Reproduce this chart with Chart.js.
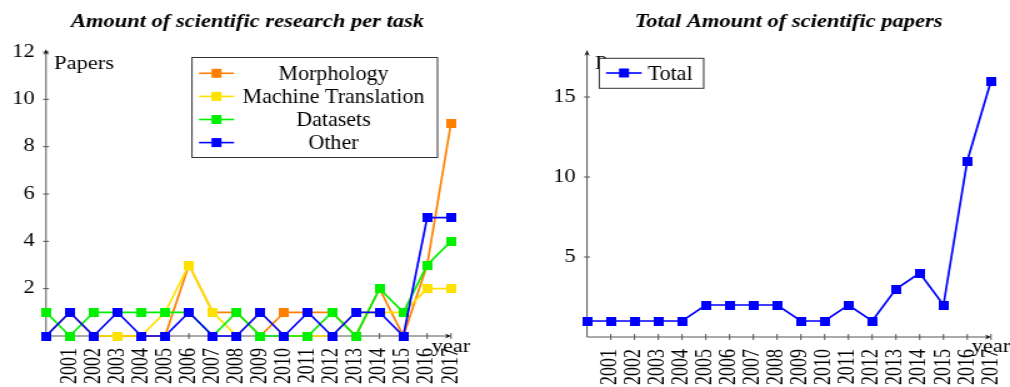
<!DOCTYPE html>
<html><head><meta charset="utf-8">
<script src="https://cdn.jsdelivr.net/npm/chart.js@4.4.1/dist/chart.umd.min.js"></script>
<style>
html,body{margin:0;padding:0;background:#fff;overflow:hidden}
body{width:1010px;height:387px;position:relative}
.wrap{position:absolute;top:0;width:404px;height:387px;transform:scaleX(1.25);transform-origin:0 0}
#w1{left:0}
#w2{left:505px}
canvas{display:block}
</style></head><body>
<div class="wrap" id="w1"><canvas id="c1" width="404" height="387"></canvas></div>
<div class="wrap" id="w2"><canvas id="c2" width="404" height="387"></canvas></div>
<script>
// ---- data ----
const years = [2000,2001,2002,2003,2004,2005,2006,2007,2008,2009,2010,2011,2012,2013,2014,2015,2016,2017];
const tickYears = [2001,2002,2003,2004,2005,2006,2007,2008,2009,2010,2011,2012,2013,2014,2015,2016,2017];
const morphology         = [0,1,0,0,0,0,3,1,1,0,1,1,1,0,2,0,3,9];
const machineTranslation = [0,1,0,0,0,1,3,1,0,1,0,0,0,1,1,1,2,2];
const datasetsSeries     = [1,0,1,1,1,1,1,0,1,0,0,0,1,0,2,1,3,4];
const other              = [0,1,0,1,0,0,1,0,0,1,0,1,0,1,1,0,5,5];
const total              = [1,1,1,1,1,2,2,2,2,1,1,2,1,3,4,2,11,16];
const leftYTicks = [2,4,6,8,10,12];
const rightYTicks = [5,10,15];
const leftTitle = 'Amount of scientific research per task';
const rightTitle = 'Total Amount of scientific papers';

// ---- styling ----
const S = 1.25; // horizontal stretch of the canvases
const FONT = '"Liberation Serif", "Times New Roman", serif';
const COLORS = {orange:'#ff8000', yellow:'#ffe100', green:'#00f000', blue:'#0000ff'};

function markerImg(color){
  const c = document.createElement('canvas');
  c.width = 8; c.height = 9;
  const g = c.getContext('2d');
  g.fillStyle = color; g.fillRect(0,0,8,9);
  return c;
}
function lineDs(label, values, color, order){
  return {
    label, order,
    data: years.map((x,i)=>({x:x, y:values[i]})),
    borderColor: color, backgroundColor: color, borderWidth: 1.7,
    pointStyle: markerImg(color), pointRadius: 5, pointHoverRadius: 5,
    tension: 0, clip: false
  };
}

function axesPlugin(arrowExtra){
  return {
    id: 'axesDeco',
    beforeDatasetsDraw(chart){
      const ctx = chart.ctx, a = chart.chartArea, x = chart.scales.x, y = chart.scales.y;
      ctx.save();
      ctx.strokeStyle = '#555'; ctx.lineWidth = 1;
      ctx.beginPath();
      ctx.moveTo(a.left, a.bottom); ctx.lineTo(a.right - 2/S, a.bottom);
      ctx.moveTo(a.left, a.bottom); ctx.lineTo(a.left, a.top - arrowExtra + 2);
      ctx.stroke();
      ctx.beginPath();
      x.ticks.forEach(t=>{ const px = x.getPixelForValue(t.value); ctx.moveTo(px, a.bottom-3); ctx.lineTo(px, a.bottom+3); });
      y.ticks.forEach(t=>{ const py = y.getPixelForValue(t.value); ctx.moveTo(a.left-3/S, py); ctx.lineTo(a.left+3/S, py); });
      ctx.stroke();
      ctx.fillStyle = '#111';
      ctx.beginPath();
      ctx.moveTo(a.right, a.bottom);
      ctx.lineTo(a.right-6/S, a.bottom-2.6);
      ctx.lineTo(a.right-4/S, a.bottom);
      ctx.lineTo(a.right-6/S, a.bottom+2.6);
      ctx.closePath(); ctx.fill();
      const ty = a.top - arrowExtra;
      ctx.beginPath();
      ctx.moveTo(a.left, ty);
      ctx.lineTo(a.left-2.6/S, ty+6);
      ctx.lineTo(a.left, ty+4);
      ctx.lineTo(a.left+2.6/S, ty+6);
      ctx.closePath(); ctx.fill();
      ctx.restore();
    }
  };
}

function text(ctx, str, x, y, font, align, unstretch){
  ctx.save();
  ctx.translate(x, y);
  if (unstretch) ctx.scale(1/S, 1);
  ctx.font = font; ctx.fillStyle = '#000';
  ctx.textAlign = align; ctx.textBaseline = 'alphabetic';
  ctx.fillText(str, 0, 0);
  ctx.restore();
}

function decoPlugin(cfg){
  return {
    id: 'deco',
    afterDatasetsDraw(chart){
      const ctx = chart.ctx, a = chart.chartArea;
      text(ctx, cfg.title, cfg.titleX, 27, 'bold italic 18px ' + FONT, 'center', false);
      text(ctx, 'Papers', cfg.papersX, 69, '18px ' + FONT, 'left', false);
      text(ctx, 'year', a.right, 352, '18px ' + FONT, 'center', false);
      // legend box
      const L = cfg.legend;
      ctx.save();
      ctx.fillStyle = '#fff'; ctx.strokeStyle = '#333'; ctx.lineWidth = 1;
      ctx.fillRect(L.x0, L.y0, L.x1-L.x0, L.y1-L.y0);
      ctx.strokeRect(L.x0, L.y0, L.x1-L.x0, L.y1-L.y0);
      chart.data.datasets.forEach((ds, i)=>{
        const yy = L.rowY + i*L.rowH;
        ctx.strokeStyle = ds.borderColor; ctx.lineWidth = 1.6;
        ctx.beginPath(); ctx.moveTo(L.lx0, yy); ctx.lineTo(L.lx1, yy); ctx.stroke();
        ctx.fillStyle = ds.borderColor;
        ctx.fillRect(L.mx - 4, yy - 4.5, 8, 9);
        text(ctx, ds.label, L.tx, yy + 6.5, '22px ' + FONT, L.talign, true);
      });
      ctx.restore();
    }
  };
}

function scalesFor(yMax, yTicks, axisLeft, axisBottom){
  const tickFont = {family: FONT, size: 18};
  return {
    x: {
      type: 'linear', min: years[0], max: years[years.length-1],
      grid: {display: false, drawTicks: false}, border: {display: false},
      ticks: {autoSkip: false, minRotation: 90, maxRotation: 90, padding: 12, color: '#000', font: tickFont,
              callback: v => String(v)},
      afterBuildTicks: s => { s.ticks = tickYears.map(v => ({value: v})); },
      afterFit: s => { s.height = 387 - axisBottom; s.paddingLeft = 0; s.paddingRight = 0; }
    },
    y: {
      type: 'linear', min: 0, max: yMax,
      grid: {display: false, drawTicks: false}, border: {display: false},
      ticks: {padding: 9, color: '#000', font: tickFont, callback: v => String(v)},
      afterBuildTicks: s => { s.ticks = yTicks.map(v => ({value: v})); },
      afterFit: s => { s.width = axisLeft; s.paddingTop = 0; s.paddingBottom = 0; }
    }
  };
}

const common = {
  responsive: false, animation: false, devicePixelRatio: 1,
  plugins: {legend: {display: false}, tooltip: {enabled: false}, title: {display: false}},
  events: []
};

new Chart(document.getElementById('c1'), {
  type: 'line',
  data: {datasets: [
    lineDs('Morphology', morphology, COLORS.orange, 3),
    lineDs('Machine Translation', machineTranslation, COLORS.yellow, 2),
    lineDs('Datasets', datasetsSeries, COLORS.green, 1),
    lineDs('Other', other, COLORS.blue, 0)
  ]},
  options: Object.assign({}, common, {
    layout: {padding: {left: 0, top: 52, right: 404 - 451/S, bottom: 0}},
    scales: scalesFor(12, leftYTicks, 46/S, 336)
  }),
  plugins: [axesPlugin(3), decoPlugin({
    title: leftTitle, titleX: 247.5/S, papersX: 54/S,
    legend: {x0: 192/S, x1: 437.5/S, y0: 57.5, y1: 157.5, rowY: 73.3, rowH: 23.1,
             lx0: 199/S, lx1: 234/S, mx: 216.5/S, tx: 333.5/S, talign: 'center'}
  })]
});

new Chart(document.getElementById('c2'), {
  type: 'line',
  data: {datasets: [ lineDs('Total', total, COLORS.blue, 0) ]},
  options: Object.assign({}, common, {
    layout: {padding: {left: 0, top: 49, right: 404 - 486/S, bottom: 0}},
    scales: scalesFor(18, rightYTicks, 82/S, 337)
  }),
  plugins: [axesPlugin(-1), decoPlugin({
    title: rightTitle, titleX: 283.5/S, papersX: 90/S,
    legend: {x0: 94.3/S, x1: 198.7/S, y0: 58.3, y1: 88.3, rowY: 73, rowH: 23,
             lx0: 101/S, lx1: 136.7/S, mx: 119/S, tx: 142.7/S, talign: 'left'}
  })]
});
</script>
</body></html>
